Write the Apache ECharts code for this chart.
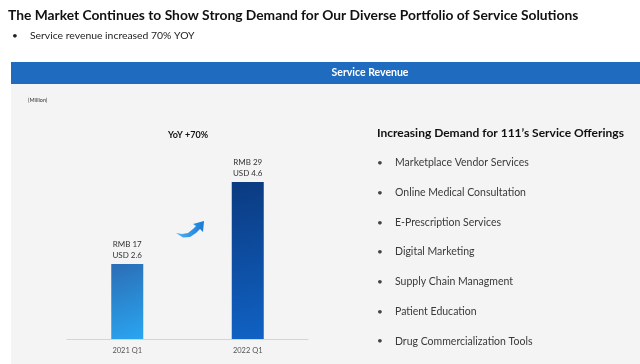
<!DOCTYPE html>
<html lang="en">
<head>
  <meta charset="UTF-8">
  <title>Service Revenue</title>
  <script src="https://cdn.jsdelivr.net/npm/echarts@6/dist/echarts.min.js"></script>
  <style>
    html, body { margin: 0; padding: 0; width: 100%; height: 100%; background: #fff; }
    #chart { width: 640px; height: 364px; }
  </style>
</head>
<body>
  <div id="chart"></div>
  <script>
    // data
    const quarters = ['2021 Q1', '2022 Q1']
    const rmbValues = [17, 29]
    const usdValues = [2.6, 4.6]
    const offerings = [
      'Marketplace Vendor Services',
      'Online Medical Consultation',
      'E-Prescription Services',
      'Digital Marketing',
      'Supply Chain Managment',
      'Patient Education',
      'Drug Commercialization Tools'
    ]

    const font = 'Lato'
    const chart = echarts.init(document.getElementById('chart'))

    // bar fills: lighter blue for 2021, deep navy for 2022
    const barColors = [
      new echarts.graphic.LinearGradient(0, 0, 1, 1, [
        { offset: 0, color: '#2b6db4' },
        { offset: 1, color: '#2aa6f2' }
      ]),
      new echarts.graphic.LinearGradient(0, 0, 1, 1, [
        { offset: 0, color: '#0b3a80' },
        { offset: 1, color: '#1062c4' }
      ])
    ]

    function txt (x, y, text, f, color, align) {
      return {
        type: 'text', x: x, y: y,
        style: { text: text, fill: color, font: f, textAlign: align || 'left', textVerticalAlign: 'middle' }
      }
    }

    const listItems = []
    offerings.forEach((t, i) => {
      const y = 163 + i * 29.7
      listItems.push(txt(377, y, '•', '10px ' + font, '#444'))
      listItems.push(txt(395, y, t, '10.5px ' + font, '#3a3a3a'))
    })

    chart.setOption({
      backgroundColor: '#fff',
      animation: false,
      graphic: [
        {
          type: 'rect', z: -10,
          shape: { x: 11, y: 84, width: 629, height: 280 },
          style: { fill: '#f4f4f4' }
        },
        {
          type: 'rect', z: -9,
          shape: { x: 11, y: 62, width: 629, height: 22 },
          style: { fill: '#1f6bc0' }
        },
        txt(8, 16, 'The Market Continues to Show Strong Demand for Our Diverse Portfolio of Service Solutions', 'bold 13.8px ' + font, '#111'),
        txt(12, 36, '•', '10px ' + font, '#222'),
        txt(30, 36, 'Service revenue increased 70% YOY', '10.4px ' + font, '#222'),
        txt(370, 73, 'Service Revenue', 'bold 10.5px ' + font, '#fff', 'center'),
        txt(28, 100, '(Million)', '5.5px ' + font, '#333'),
        txt(188, 135, 'YoY +70%', 'bold 9px ' + font, '#111', 'center'),
        txt(377, 133, 'Increasing Demand for 111\u2019s Service Offerings', 'bold 12px ' + font, '#111'),
        {
          // swoosh arrow between the bars
          type: 'polygon',
          shape: {
            points: [[176, 233], [182, 234], [188, 233], [193, 229], [196, 226], [193, 224],
              [204, 221], [203, 232], [200, 229], [196, 233], [190, 237], [183, 237.5], [176, 233]]
          },
          style: {
            fill: new echarts.graphic.LinearGradient(0, 0, 1, 0, [
              { offset: 0, color: '#4fb4f5' },
              { offset: 1, color: '#1a7ad6' }
            ])
          }
        },
        ...listItems
      ],
      grid: { left: 67, right: 332, top: 141, bottom: 25 },
      xAxis: {
        type: 'category',
        data: quarters,
        axisLine: { lineStyle: { color: '#d4d4d4', width: 1 } },
        axisTick: { show: false },
        axisLabel: { color: '#555', fontFamily: font, fontSize: 7.5, margin: 8 }
      },
      yAxis: {
        type: 'value', min: 6, max: 35,
        show: false,
        splitLine: { show: false }
      },
      series: [
        {
          type: 'bar',
          barWidth: 32,
          data: rmbValues.map((v, i) => ({ value: v, itemStyle: { color: barColors[i] } })),
          label: {
            show: true,
            position: 'top',
            distance: 3,
            color: '#333',
            fontFamily: font,
            fontSize: 8,
            lineHeight: 11,
            formatter: p => 'RMB ' + rmbValues[p.dataIndex] + '\nUSD ' + usdValues[p.dataIndex]
          }
        }
      ]
    })
  </script>
</body>
</html>
